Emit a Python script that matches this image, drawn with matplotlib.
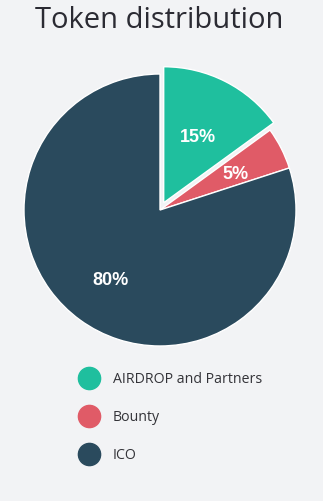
import numpy as np
import matplotlib.pyplot as plt
from matplotlib.lines import Line2D

# token allocation
labels = ['AIRDROP and Partners', 'Bounty', 'ICO']
shares = [15, 5, 80]
colors = ['#1fbf9e', '#e05b67', '#2a4a5d']
explode = [0.06, 0, 0]

bg = '#f2f3f5'
W, H = 323, 501
fig = plt.figure(figsize=(W / 100, H / 100), dpi=100, facecolor=bg)

# pie centred at (160, 210) px, radius 136 px
R = 136
cx, cy = 160, 210
half = 1.15 * R
ax = fig.add_axes([(cx - half) / W, (H - cy - half) / H, 2 * half / W, 2 * half / H])
ax.set_facecolor(bg)
wedges, texts, autotexts = ax.pie(
    shares, colors=colors, explode=explode, startangle=90, counterclock=False,
    autopct='%d%%', pctdistance=0.62,
    wedgeprops=dict(edgecolor='white', linewidth=1),
    textprops=dict(color='white', fontsize=13, fontweight='bold',
                   family='Liberation Sans'))

# percentage labels sit where the slice would be without the explode offset
for w, t in zip(wedges, autotexts):
    ang = np.deg2rad((w.theta1 + w.theta2) / 2)
    t.set_position((0.62 * np.cos(ang), 0.62 * np.sin(ang) - 0.02))

ax.set_xlim(-1.15, 1.15)
ax.set_ylim(-1.15, 1.15)
ax.set_aspect('equal')
ax.axis('off')

fig.text(159 / W, 1 - 21 / H, 'Token distribution', ha='center', va='center',
         fontsize=21, color='#2b2b33', family='Open Sans')

handles = [Line2D([], [], marker='o', linestyle='', markersize=16,
                  markerfacecolor=c, markeredgecolor=c) for c in colors]
fig.legend(handles, labels, loc='upper left', bbox_to_anchor=(73 / W, 1 - 366 / H),
           frameon=False, prop=dict(family='Open Sans', size=10.2),
           labelcolor='#333338', labelspacing=1.62, handletextpad=1.0,
           handlelength=1.4, borderaxespad=0)

fig.savefig('out.png', dpi=100, facecolor=bg)
